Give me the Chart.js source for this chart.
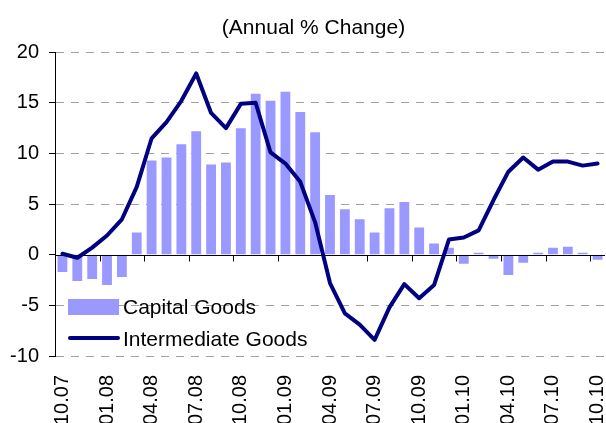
<!DOCTYPE html>
<html>
<head>
<meta charset="utf-8">
<script src="https://cdn.jsdelivr.net/npm/chart.js@4/dist/chart.umd.min.js"></script>
<style>
html,body{margin:0;padding:0;background:#fff;overflow:hidden;}
#wrap{position:relative;width:606px;height:423px;}
</style>
</head>
<body>
<div id="wrap"><canvas id="c"></canvas></div>
<script>
const months = ["10.07","11.07","12.07","01.08","02.08","03.08","04.08","05.08","06.08","07.08","08.08","09.08",
  "10.08","11.08","12.08","01.09","02.09","03.09","04.09","05.09","06.09","07.09","08.09","09.09",
  "10.09","11.09","12.09","01.10","02.10","03.10","04.10","05.10","06.10","07.10","08.10","09.10","10.10"];
const capitalGoods = [-1.7,-2.6,-2.4,-3.0,-2.2,2.2,9.3,9.6,10.9,12.2,8.9,9.1,12.5,15.9,15.2,16.1,14.1,12.1,
  5.9,4.5,3.5,2.2,4.6,5.2,2.7,1.1,0.7,-0.9,0.2,-0.4,-2.0,-0.8,0.2,0.7,0.8,0.2,-0.5];
const intermediateGoods = [0.1,-0.3,0.7,1.9,3.5,6.7,11.5,13.1,15.2,17.9,14.0,12.5,14.9,15.0,10.1,9.0,7.2,3.2,
  -2.8,-5.8,-6.9,-8.4,-5.2,-2.9,-4.3,-3.0,1.5,1.7,2.4,5.4,8.2,9.6,8.4,9.2,9.2,8.8,9.0];
const seriesNames = ["Capital Goods","Intermediate Goods"];
const titleText = "(Annual % Change)";
const yTicks = {min:-10, max:20, step:5};
const labelEvery = 3;

const FONT = '"Liberation Sans", Arial, sans-serif';
const BAR_COLOR = '#9999FF';
const LINE_COLOR = '#000080';

const overlay = {
  id: 'overlay',
  afterLayout(chart) {
    if (chart.titleBlock) { chart.titleBlock.left += 22; }
  },
  afterDatasetDraw(chart, args) {
    if (chart.data.datasets[args.index].type !== 'bar') return;
    const ctx = chart.ctx, x = chart.scales.x, y = chart.scales.y, area = chart.chartArea;
    const y0 = Math.round(y.getPixelForValue(0)) + 0.5;
    ctx.save();
    ctx.strokeStyle = '#000';
    ctx.lineWidth = 1;
    ctx.beginPath();
    ctx.moveTo(area.left, y0);
    ctx.lineTo(area.right, y0);
    for (let i = labelEvery; i <= months.length - 1; i += labelEvery) {
      const bx = Math.round((x.getPixelForValue(i - 1) + x.getPixelForValue(i)) / 2) + 0.5;
      ctx.moveTo(bx, y0);
      ctx.lineTo(bx, y0 + 6);
    }
    ctx.stroke();
    ctx.restore();
  },
  afterDraw(chart) {
    const ctx = chart.ctx;
    const barDs = chart.data.datasets.find(d => d.type === 'bar');
    const lineDs = chart.data.datasets.find(d => d.type === 'line');
    ctx.save();
    ctx.font = '21px ' + FONT;
    ctx.textBaseline = 'middle';
    ctx.textAlign = 'left';
    ctx.fillStyle = BAR_COLOR;
    ctx.fillRect(68, 299, 51, 16);
    ctx.fillStyle = '#000';
    ctx.fillText(barDs.label, 123, 308);
    ctx.strokeStyle = LINE_COLOR;
    ctx.lineWidth = 4;
    ctx.lineCap = 'round';
    ctx.beginPath();
    ctx.moveTo(70, 338);
    ctx.lineTo(118, 338);
    ctx.stroke();
    ctx.fillText(lineDs.label, 123, 340);
    ctx.restore();
  }
};

new Chart(document.getElementById('c'), {
  data: {
    labels: months,
    datasets: [
      {type:'line', label: seriesNames[1], data: intermediateGoods, borderColor: LINE_COLOR, borderWidth: 4,
       pointRadius: 0, tension: 0, borderJoinStyle: 'round', borderCapStyle: 'round', order: 0, fill: false},
      {type:'bar', label: seriesNames[0], data: capitalGoods, backgroundColor: BAR_COLOR,
       barPercentage: 0.66, categoryPercentage: 1.0, order: 1}
    ]
  },
  options: {
    responsive: true,
    maintainAspectRatio: false,
    animation: false,
    layout: {padding: {left: 0, right: 1, top: 0, bottom: 0}},
    plugins: {
      legend: {display: false},
      tooltip: {enabled: false},
      title: {display: true, text: titleText, color: '#000', font: {family: FONT, size: 21, weight: 'normal'},
              padding: {top: 16, bottom: 11}}
    },
    scales: {
      x: {
        type: 'category',
        offset: true,
        grid: {display: false, drawTicks: false, offset: true},
        border: {display: false},
        ticks: {autoSkip: false, minRotation: 90, maxRotation: 90, padding: 19, color: '#000',
                font: {family: FONT, size: 20},
                callback: function(v, i) { return i % labelEvery === 0 ? months[i] : ''; }},
        afterFit(s) { s.height = 67; s.paddingLeft = 0; s.paddingRight = 0; }
      },
      y: {
        min: yTicks.min, max: yTicks.max,
        ticks: {stepSize: yTicks.step, color: '#000', padding: 10, font: {family: FONT, size: 20}},
        grid: {color: (c) => (c.tick && c.tick.value === 0) ? 'rgba(0,0,0,0)' : '#a0a0a0',
               lineWidth: 1, tickLength: 6, tickColor: '#000', tickBorderDash: [], tickWidth: 1},
        border: {display: true, color: '#000', width: 1, dash: [8, 7]},
        afterFit(s) { s.width = 55; }
      }
    }
  },
  plugins: [overlay]
});
</script>
</body>
</html>
